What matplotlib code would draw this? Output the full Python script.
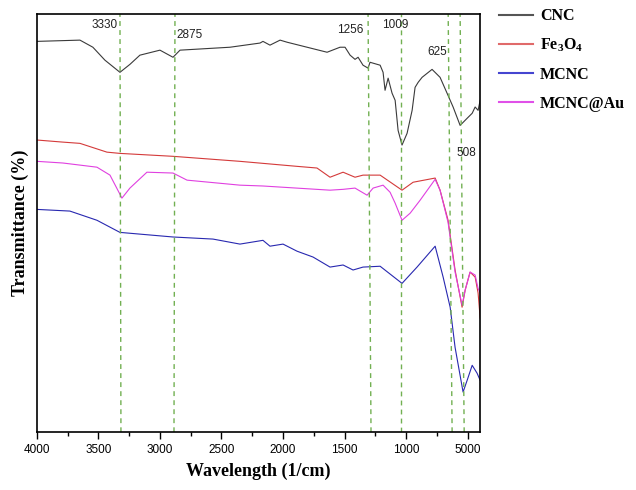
import matplotlib
matplotlib.use("Agg")
from matplotlib import pyplot as plt
from matplotlib.ticker import MultipleLocator

plt.rcParams['mathtext.fontset'] = 'custom'
plt.rcParams['mathtext.rm'] = 'Liberation Serif:bold'
plt.rcParams['mathtext.default'] = 'rm'

# FTIR spectra (wavenumber, arbitrary transmittance)
cnc_x = [4000, 3650, 3545, 3447, 3325, 3244, 3163, 3000, 2894, 2837, 2431, 2187, 2163, 2106,
         2024, 1967, 1642, 1537, 1496, 1455, 1415, 1390, 1350, 1309, 1293, 1211, 1187, 1171,
         1146, 1114, 1089, 1065, 1033, 992, 951, 927, 902, 870, 789, 724, 667, 618, 561, 504,
         463, 439, 415, 398]
cnc_y = [93.5, 93.8, 92.1, 89.0, 86.1, 88.0, 90.2, 91.4, 89.7, 91.4, 92.1, 93.1, 93.5, 92.6,
         93.8, 93.3, 90.9, 92.1, 92.1, 90.2, 89.2, 89.7, 87.8, 87.1, 88.5, 87.8, 86.1, 81.8,
         84.7, 81.1, 79.4, 72.2, 68.7, 71.5, 77.0, 82.5, 83.7, 84.9, 86.8, 84.9, 81.1, 77.8,
         73.4, 75.1, 76.3, 77.8, 77.0, 79.4]

fe_x = [4000, 3789, 3650, 3431, 3325, 2894, 2350, 1886, 1724, 1618, 1512, 1415, 1350, 1211,
        1033, 943, 764, 724, 659, 602, 545, 520, 480, 439, 415, 398]
fe_y = [69.9, 69.4, 69.1, 67.0, 66.7, 66.0, 64.8, 63.6, 63.2, 61.0, 62.2, 61.0, 61.5, 61.5,
        57.9, 59.8, 60.8, 57.9, 50.7, 38.8, 29.9, 34.0, 38.3, 37.1, 33.3, 27.3]

mcnc_x = [4000, 3732, 3512, 3325, 2894, 2569, 2350, 2163, 2106, 2000, 1886, 1756, 1618, 1512,
          1431, 1350, 1211, 1033, 911, 764, 699, 642, 602, 537, 504, 463, 423, 398]
mcnc_y = [53.3, 52.9, 50.7, 47.8, 46.7, 46.2, 45.0, 45.9, 44.5, 45.0, 43.3, 41.9, 39.5, 40.0,
          38.8, 39.5, 39.7, 35.6, 39.5, 44.5, 37.1, 29.9, 20.3, 9.6, 12.4, 16.0, 14.1, 12.4]

au_x = [4000, 3789, 3512, 3406, 3309, 3244, 3106, 2894, 2780, 2350, 2163, 1618, 1512, 1415,
        1317, 1268, 1187, 1130, 1089, 1033, 967, 886, 764, 724, 659, 602, 545, 520, 480, 439,
        415, 398]
au_y = [64.8, 64.4, 63.4, 61.5, 56.0, 58.4, 62.2, 62.0, 60.3, 59.1, 58.9, 57.9, 58.1, 58.4,
        56.7, 58.4, 59.1, 57.4, 54.8, 50.7, 52.4, 55.5, 60.5, 57.9, 50.2, 38.3, 30.4, 34.0,
        38.3, 37.6, 34.4, 33.3]

# dashed guide lines (top / bottom wavenumber, they lean a little) and peak labels
guide_top = [3325, 2878, 1309, 1041, 658, 561]
guide_bottom = [3317, 2886, 1285, 1041, 626, 528]
peak_labels = ['3330', '2875', '1256', '1009', '625', '508']
peak_label_x = [3447, 2756, 1455, 1089, 748, 512]
peak_label_y = [97.4, 95.0, 96.2, 97.4, 90.9, 66.7]

tick_pos = [4000, 3500, 3000, 2500, 2000, 1500, 1000, 500]
tick_text = ['4000', '3500', '3000', '2500', '2000', '1500', '1000', '5000']

fig = plt.figure(figsize=(6.36, 4.9), dpi=100)
ax = fig.add_axes([0.058, 0.118, 0.697, 0.853])

ax.plot(cnc_x, cnc_y, color='#3a3a3a', lw=0.8, label='CNC')
ax.plot(fe_x, fe_y, color='#d43a3a', lw=0.8, label='Fe$_3$O$_4$')
ax.plot(mcnc_x, mcnc_y, color='#2828b0', lw=0.8, label='MCNC')
ax.plot(au_x, au_y, color='#e040e0', lw=0.8, label='MCNC@Au')

for xt, xb in zip(guide_top, guide_bottom):
    ax.plot([xb, xt], [0, 100], color='#72b052', lw=1.0, ls=(0, (3.5, 3)))

for txt, lx, ly in zip(peak_labels, peak_label_x, peak_label_y):
    ax.text(lx, ly, txt, ha='center', va='center', fontsize=8.5,
            family='Liberation Sans', color='#222222')

ax.set_xlim(4000, 398)
ax.set_ylim(0, 100)
ax.set_xticks(tick_pos)
ax.set_xticklabels(tick_text, family='Liberation Sans', fontsize=8.5)
ax.xaxis.set_minor_locator(MultipleLocator(250))
ax.tick_params(axis='x', which='major', direction='out', length=5, width=1)
ax.tick_params(axis='x', which='minor', direction='out', length=3, width=1)
ax.set_yticks([])
for sp in ax.spines.values():
    sp.set_linewidth(1.2)

ax.set_xlabel('Wavelength (1/cm)', family='Liberation Serif', fontweight='bold',
              fontsize=13, labelpad=5)
ax.set_ylabel('Transmittance (%)', family='Liberation Serif', fontweight='bold',
              fontsize=13, labelpad=6)

leg = ax.legend(loc='upper left', bbox_to_anchor=(0.78, 0.99), bbox_transform=fig.transFigure,
                frameon=False, borderaxespad=0, borderpad=0.2, labelspacing=0.8,
                handlelength=2.1, handletextpad=0.45,
                prop={'family': 'Liberation Serif', 'weight': 'bold', 'size': 11.5})
legend_colors = ['#555555', '#e06a6a', '#4545d0', '#e050e8']
for line, c in zip(leg.get_lines(), legend_colors):
    line.set_linewidth(1.5)
    line.set_color(c)

fig.savefig('out.png', dpi=100)
